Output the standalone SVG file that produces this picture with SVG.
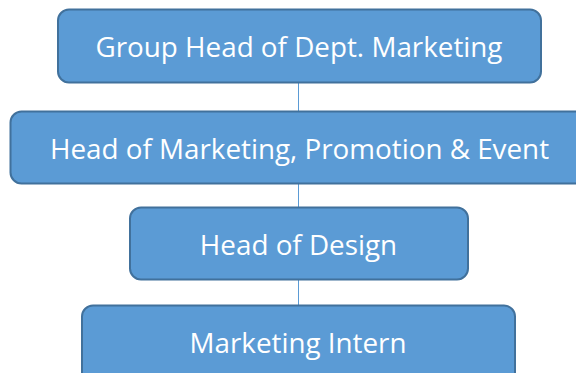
<svg xmlns="http://www.w3.org/2000/svg" width="576" height="373" viewBox="0 0 576 373">
<style>
.box{fill:#5B9BD5;stroke:#41719C;stroke-width:2}
.lbl{font-family:"Open Sans","Noto Sans",sans-serif;font-size:27.8px;fill:#fff;text-anchor:middle}
.conn{stroke:#5B9BD5;stroke-width:1;fill:none}
</style>
<rect width="576" height="373" fill="#fff"/>
<g id="connectors">
<line class="conn" x1="298.5" y1="83" x2="298.5" y2="111"/>
<line class="conn" x1="298.5" y1="184" x2="298.5" y2="207"/>
<line class="conn" x1="298.5" y1="279" x2="298.5" y2="305"/>
</g>
<g id="n1">
<rect class="box" x="58" y="9.5" width="483" height="73" rx="11"/>
<text class="lbl" x="299" y="57">Group Head of Dept. Marketing</text>
</g>
<g id="n2">
<rect class="box" x="10.5" y="111.5" width="580" height="72" rx="11"/>
<text class="lbl" x="299.5" y="159">Head of Marketing, Promotion &amp; Event</text>
</g>
<g id="n3">
<rect class="box" x="130" y="207.5" width="338" height="72" rx="11"/>
<text class="lbl" x="298.5" y="255">Head of Design</text>
</g>
<g id="n4">
<rect class="box" x="82" y="305.5" width="433" height="80" rx="11"/>
<text class="lbl" x="298" y="353">Marketing Intern</text>
</g>
</svg>
